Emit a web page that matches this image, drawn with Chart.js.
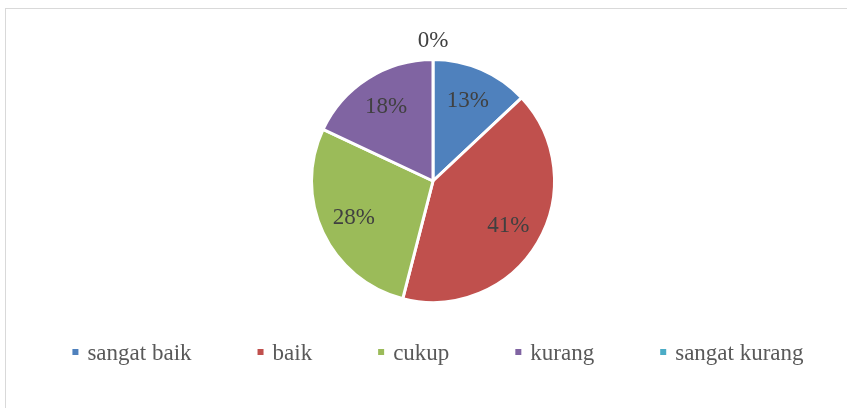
<!DOCTYPE html>
<html>
<head>
<meta charset="utf-8">
<script src="https://cdn.jsdelivr.net/npm/chart.js@4"></script>
<style>
    html, body { margin: 0; padding: 0; background: #fff; }
    #wrap { position: relative; width: 847px; height: 408px; overflow: hidden; }
    #frame {
        position: absolute; left: 5px; top: 8px; width: 900px; height: 450px;
        border: 1px solid #d9d9d9; box-sizing: border-box;
    }
    #chart { position: absolute; left: 0; top: 0; }
</style>
</head>
<body>
<div id="wrap">
    <div id="frame"></div>
    <canvas id="chart" width="847" height="408"></canvas>
</div>
<script>
// données
const categories = ['sangat baik', 'baik', 'cukup', 'kurang', 'sangat kurang'];
const percents = [13, 41, 28, 18, 0];
const colors = ['#4f81bd', '#c0504d', '#9bbb59', '#8064a2', '#4bacc6'];

const serif = '"Liberation Serif", "Times New Roman", serif';

/**
 * Étiquettes de pourcentage dans les parts (0% au-dessus du camembert)
 */
const sliceLabels = {
    id: 'sliceLabels',
    afterDatasetsDraw(chart) {
        const ctx = chart.ctx;
        const meta = chart.getDatasetMeta(0);
        ctx.save();
        ctx.font = '23px ' + serif;
        ctx.fillStyle = '#404040';
        ctx.textAlign = 'center';
        ctx.textBaseline = 'middle';
        meta.data.forEach((arc, i) => {
            const p = arc.getProps(['x', 'y', 'startAngle', 'endAngle', 'outerRadius'], true);
            const mid = (p.startAngle + p.endAngle) / 2;
            const r = percents[i] === 0 ? p.outerRadius + 19 : p.outerRadius * 0.72;
            ctx.fillText(percents[i] + '%', p.x + Math.cos(mid) * r, p.y + Math.sin(mid) * r);
        });
        ctx.restore();
    }
};

/**
 * Légende en bas, espacée comme dans Excel
 */
const bottomLegend = {
    id: 'bottomLegend',
    afterDraw(chart) {
        const ctx = chart.ctx;
        const box = 6, boxGap = 9, itemGap = 66;
        const centerX = 438, y = 352;
        ctx.save();
        ctx.font = '23px ' + serif;
        const widths = categories.map(c => ctx.measureText(c).width);
        const total = widths.reduce((s, w) => s + box + boxGap + w, 0) + itemGap * (categories.length - 1);
        let x = centerX - total / 2;
        ctx.textBaseline = 'middle';
        categories.forEach((c, i) => {
            ctx.fillStyle = colors[i];
            ctx.fillRect(x, y - box / 2, box, box);
            x += box + boxGap;
            ctx.fillStyle = '#595959';
            ctx.fillText(c, x, y + 2);
            x += widths[i] + itemGap;
        });
        ctx.restore();
    }
};

new Chart(document.getElementById('chart'), {
    type: 'pie',
    data: {
        labels: categories,
        datasets: [{
            data: percents,
            backgroundColor: colors,
            borderColor: '#ffffff',
            borderWidth: 3
        }]
    },
    options: {
        responsive: false,
        animation: false,
        layout: { padding: { top: 58, bottom: 104, left: 19, right: 0 } },
        plugins: {
            legend: { display: false },
            tooltip: { enabled: false }
        }
    },
    plugins: [sliceLabels, bottomLegend]
});
</script>
</body>
</html>
